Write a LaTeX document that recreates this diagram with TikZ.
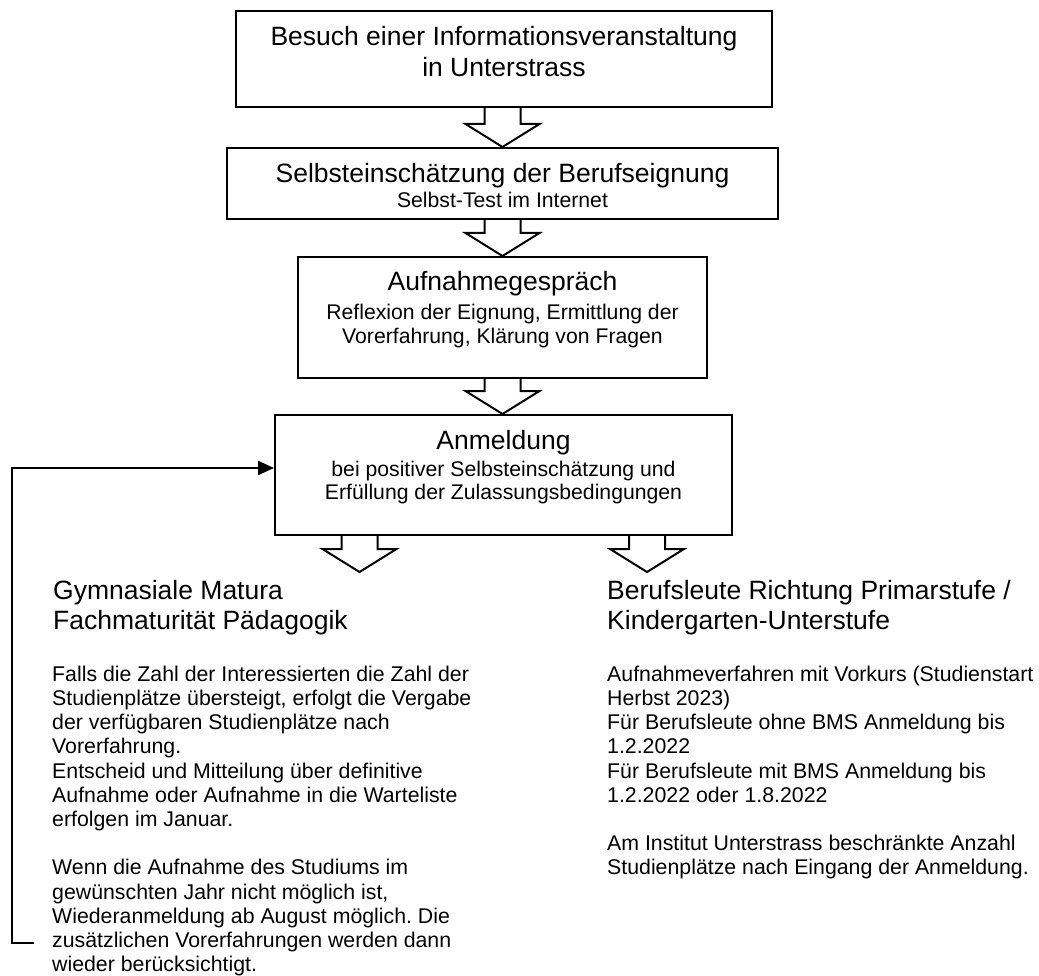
\documentclass[tikz,border=0pt]{standalone}
\usepackage{fontspec}
\setmainfont{Liberation Sans}
\usetikzlibrary{arrows.meta}
\frenchspacing
\tikzset{
  box/.style={draw, line width=2pt, rectangle, inner sep=0pt},
  blk/.style={draw, line width=2pt, line join=miter},
  hd/.style={font=\fontsize{26.5}{31}\selectfont, anchor=base, inner sep=0pt},
  sb/.style={font=\fontsize{21.2}{24}\selectfont, anchor=base, inner sep=0pt},
  lhd/.style={font=\fontsize{26.5}{30}\selectfont, align=left, anchor=north west, inner sep=0pt},
  body/.style={font=\fontsize{21.3}{24.2}\selectfont, align=left, anchor=north west, inner sep=0pt},
  fback/.style={draw, line width=2pt, -{Triangle[length=16pt,width=14pt]}}
}
\newcommand\blockarr[2]{\draw[blk] ([xshift=-18pt]#1) -- ([xshift=-18pt,yshift=23pt]#2) -- ([xshift=-37pt,yshift=23pt]#2) -- (#2) -- ([xshift=37pt,yshift=23pt]#2) -- ([xshift=18pt,yshift=23pt]#2) -- ([xshift=18pt]#1);}
\begin{document}
\begin{tikzpicture}[x=1pt,y=-1pt]
\useasboundingbox[fill=white] (0,0) rectangle (1039,976);
% boxes
\node[box, minimum width=536, minimum height=96] (b1) at (504,59) {};
\node[box, minimum width=551, minimum height=71] (b2) at (502.5,183.5) {};
\node[box, minimum width=409, minimum height=121] (b3) at (502.5,317.5) {};
\node[box, minimum width=457, minimum height=120] (b4) at (503.5,475) {};
% box texts
\node[hd] (t1a) at (504,46) {Besuch einer Informationsveranstaltung};
\node[hd] (t1b) at (504,77) {in Unterstrass};
\node[hd] (t2a) at (502.5,183) {Selbsteinschätzung der Berufseignung};
\node[sb] (t2b) at (502.5,208) {Selbst-Test im Internet};
\node[hd] (t3a) at (502.5,291) {Aufnahmegespräch};
\node[sb] (t3b) at (502.5,320) {Reflexion der Eignung, Ermittlung der};
\node[sb] (t3c) at (502.5,344) {Vorerfahrung, Klärung von Fragen};
\node[hd] (t4a) at (503.5,449) {Anmeldung};
\node[sb] (t4b) at (503.5,476) {bei positiver Selbsteinschätzung und};
\node[sb] (t4c) at (503.5,499) {Erfüllung der Zulassungsbedingungen};
% block arrows
\coordinate (la) at (359.5,572);
\coordinate (ra) at (647,572);
\blockarr{b1.south -| b2.north}{b2.north}
\blockarr{b2.south}{b2.south |- b3.north}
\blockarr{b3.south -| b2.south}{b2.south |- b4.north}
\blockarr{b4.south -| la}{la}
\blockarr{b4.south -| ra}{ra}
% lower texts
\node[lhd] (gh) at (53,580) {Gymnasiale Matura\\Fachmaturität Pädagogik};
\node[lhd] (bh) at (607,580) {Berufsleute Richtung Primarstufe /\\Kindergarten-Unterstufe};
\node[body] (gt) at (52,665.6) {Falls die Zahl der Interessierten die Zahl der\\
Studienplätze übersteigt, erfolgt die Vergabe\\
der verfügbaren Studienplätze nach\\
Vorerfahrung.\\
Entscheid und Mitteilung über definitive\\
Aufnahme oder Aufnahme in die Warteliste\\
erfolgen im Januar.\\[24.2pt]
Wenn die Aufnahme des Studiums im\\
gewünschten Jahr nicht möglich ist,\\
Wiederanmeldung ab August möglich. Die\\
zusätzlichen Vorerfahrungen werden dann\\
wieder berücksichtigt.};
\node[body] (bt) at (607,665.6) {Aufnahmeverfahren mit Vorkurs (Studienstart\\
Herbst 2023)\\
Für Berufsleute ohne BMS Anmeldung bis\\
1.2.2022\\
Für Berufsleute mit BMS Anmeldung bis\\
1.2.2022 oder 1.8.2022\\[24.2pt]
Am Institut Unterstrass beschränkte Anzahl\\
Studienplätze nach Eingang der Anmeldung.};
% feedback connector
\coordinate (fb) at (34,943);
\draw[fback] (fb) -- ++(-22,0) |- ([yshift=7pt]b4.west);
\end{tikzpicture}
\end{document}
